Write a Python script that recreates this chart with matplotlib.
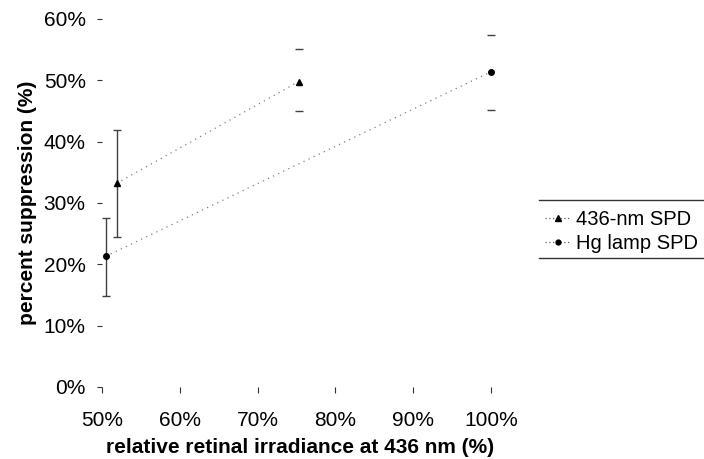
import matplotlib
matplotlib.use("Agg")
import matplotlib.pyplot as plt
from matplotlib.lines import Line2D
from matplotlib.ticker import PercentFormatter

plt.rcParams['font.family'] = ['Liberation Sans', 'DejaVu Sans']

# Data (fractions)
nm436_x = [0.519, 0.753]
nm436_y = [0.332, 0.498]
nm436_lo = [0.245, 0.450]
nm436_hi = [0.419, 0.551]

hg_x = [0.505, 1.00]
hg_y = [0.213, 0.514]
hg_lo = [0.148, 0.452]
hg_hi = [0.276, 0.574]

xticks = [0.5, 0.6, 0.7, 0.8, 0.9, 1.0]
yticks = [0.0, 0.1, 0.2, 0.3, 0.4, 0.5, 0.6]

fig = plt.figure(figsize=(7.04, 4.59), dpi=100)
ax = fig.add_axes([101.7/704, 1-387/459, (499-101.7)/704, (387-19)/459])

dot = (0, (1, 3.5))
ecol = '#404040'

def plot_series(x, y, lo, hi, marker, ms):
    ax.plot(x, y, linestyle=dot, color='#808080', lw=0.9, zorder=2)
    # first point: full error bar, later points: caps only (as in reference)
    for i in range(len(x)):
        yerr = [[y[i]-lo[i]], [hi[i]-y[i]]]
        ax.errorbar([x[i]], [y[i]], yerr=yerr, fmt='none', ecolor=ecol,
                    elinewidth=1.0 if i == 0 else 0, capsize=3.0, capthick=1.0, zorder=3)
    ax.plot(x, y, linestyle='none', marker=marker, ms=ms, color='black', zorder=4)

plot_series(nm436_x, nm436_y, nm436_lo, nm436_hi, '^', 5.0)
plot_series(hg_x, hg_y, hg_lo, hg_hi, 'o', 4.0)

ax.set_xlim(0.5, 1.01)
ax.set_ylim(0.0, 0.6)
ax.set_xticks(xticks)
ax.set_yticks(yticks)
ax.xaxis.set_major_formatter(PercentFormatter(1.0, decimals=0))
ax.yaxis.set_major_formatter(PercentFormatter(1.0, decimals=0))
for s in ax.spines.values():
    s.set_visible(False)
ax.tick_params(axis='x', direction='out', length=4, width=0.8, color='#333333', pad=13, labelsize=15)
ax.tick_params(axis='y', direction='out', length=3.5, width=0.8, color='#333333', pad=8, labelsize=15)
ax.set_xlabel('relative retinal irradiance at 436 nm (%)', fontsize=15, fontweight='bold', labelpad=6)
ax.set_ylabel('percent suppression (%)', fontsize=15, fontweight='bold', labelpad=5)

handles = [
    Line2D([], [], linestyle=(0, (1, 2)), color='#606060', lw=0.9, marker='^', ms=4, mfc='black', mec='black'),
    Line2D([], [], linestyle=(0, (1, 2)), color='#606060', lw=0.9, marker='o', ms=3.5, mfc='black', mec='black'),
]
leg = fig.legend(handles, ['436-nm SPD', 'Hg lamp SPD'], loc='upper left',
                 bbox_to_anchor=(545/704, 1-210/459), frameon=False, fontsize=14.5,
                 handlelength=1.25, handletextpad=0.3, labelspacing=0.25, borderpad=0,
                 borderaxespad=0)
# legend box borders (top and bottom)
fig.add_artist(Line2D([539/704, 1.0], [1-200.5/459]*2, transform=fig.transFigure, color='#333333', lw=1))
fig.add_artist(Line2D([539/704, 1.0], [1-257.5/459]*2, transform=fig.transFigure, color='#333333', lw=1))

fig.savefig('out.png', dpi=100)
